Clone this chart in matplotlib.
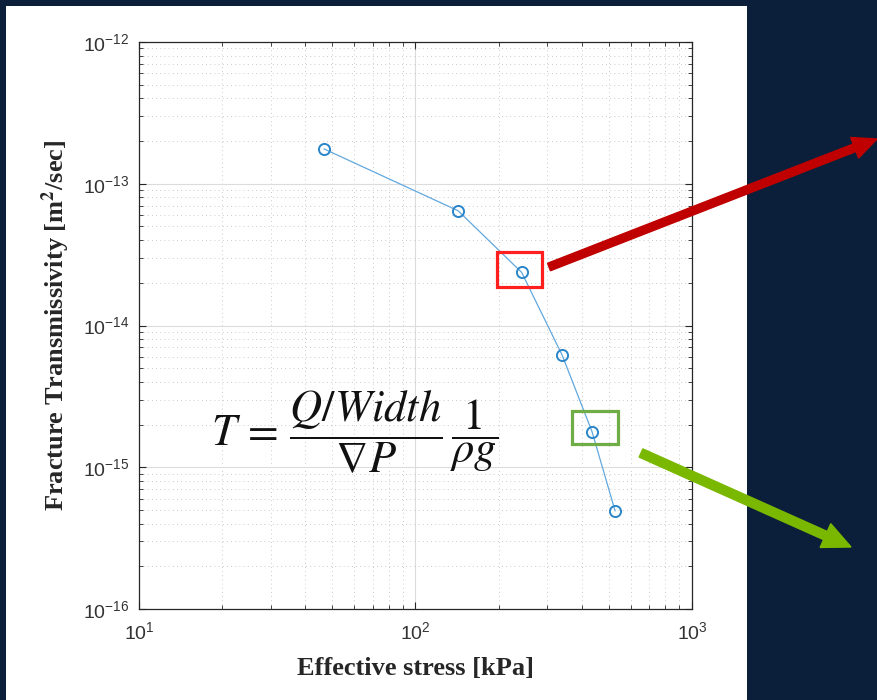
import matplotlib
matplotlib.use("Agg")
import matplotlib.pyplot as plt
from matplotlib.patches import Rectangle, FancyArrow
from matplotlib.transforms import IdentityTransform
from matplotlib.ticker import LogLocator, NullFormatter, FixedLocator

# values
stress = [46.7, 142.6, 242.0, 339.0, 435.0, 527.0]  # kPa
transmissivity = [1.76e-13, 6.45e-14, 2.37e-14, 6.19e-15, 1.78e-15, 4.93e-16]  # m^2/sec
x_ticks = [10, 100, 1000]
y_ticks = [1e-16, 1e-15, 1e-14, 1e-13, 1e-12]
x_label = "Effective stress [kPa]"
y_label = r"Fracture Transmissivity [m$^{\mathbf{2}}$/sec]"
equation = r"$T\,=\,\dfrac{Q/Width}{\nabla P}\,\dfrac{1}{\rho g}$"
highlighted = [2, 4]  # points marked with red / green boxes

navy = "#0b1f3a"
W, H = 877, 700

plt.rcParams["font.family"] = ["Liberation Sans", "DejaVu Sans"]

fig = plt.figure(figsize=(W / 100, H / 100), dpi=100, facecolor=navy)

# white slide panel behind the plot
fig.add_artist(Rectangle((6 / W, 0), 741 / W, 694 / H, transform=fig.transFigure,
                         facecolor="white", edgecolor="none", zorder=0))

ax = fig.add_axes([139 / W, 91 / H, 553 / W, 567 / H])
ax.set_facecolor("white")
ax.plot(stress, transmissivity, "-", color="#62a8de", lw=0.9, zorder=3)
ax.plot(stress, transmissivity, "o", ms=8, mfc="none", mec="#2a86c9", mew=1.4, zorder=4)

ax.set_xscale("log")
ax.set_yscale("log")
ax.set_xlim(10, 1000)
ax.set_ylim(1e-16, 1e-12)
ax.xaxis.set_major_locator(FixedLocator(x_ticks))
ax.yaxis.set_major_locator(FixedLocator(y_ticks))
ax.xaxis.set_minor_locator(LogLocator(base=10, subs=range(2, 10)))
ax.yaxis.set_minor_locator(LogLocator(base=10, subs=range(2, 10)))
ax.xaxis.set_minor_formatter(NullFormatter())
ax.yaxis.set_minor_formatter(NullFormatter())

ax.grid(which="major", color="#dcdcdc", lw=0.8, ls="-")
ax.grid(which="minor", color="#b8b8b8", lw=0.6, ls=(0, (1, 4)))
ax.set_axisbelow(True)

ax.tick_params(which="both", direction="in", top=True, right=True, colors="#262626",
               labelcolor="#333333")
ax.tick_params(which="major", length=5, width=0.8, labelsize=14)
ax.tick_params(which="minor", length=3, width=0.6)
ax.tick_params(axis="x", which="major", pad=9)
ax.tick_params(axis="y", which="major", pad=7)
for s in ax.spines.values():
    s.set_color("#262626")
    s.set_linewidth(0.9)

ax.set_xlabel(x_label, family="Liberation Serif", weight="bold", fontsize=19, color="#262626")
ax.set_ylabel(y_label, family="Liberation Serif", weight="bold", fontsize=19, color="#262626",
              math_fontfamily="stix")
ax.xaxis.set_label_coords(0.5, -0.085)
ax.yaxis.set_label_coords(-0.122, 0.5)

fig.text(211 / W, (H - 432) / H, equation, fontsize=32, math_fontfamily="stix",
         ha="left", va="center", color="#111111")

# boxes around the two highlighted points (pixel offsets from each point)
fig.canvas.draw()
box_specs = [(-24.7, -15, 44.7, 35, "#ff1f1f"), (-19.6, -12, 45.6, 33, "#70ad47")]
for idx, (dx, dy, bw, bh, col) in zip(highlighted, box_specs):
    px, py = ax.transData.transform((stress[idx], transmissivity[idx]))
    fig.add_artist(Rectangle((px + dx, py + dy), bw, bh, transform=IdentityTransform(),
                             fill=False, edgecolor=col, lw=2.3, zorder=6))

# arrows pointing out of the plot
fig.add_artist(FancyArrow(549, H - 267, 328, -(139 - 267), width=8, head_width=22,
                          head_length=24, length_includes_head=True, color="#c00000",
                          transform=IdentityTransform(), zorder=7))
fig.add_artist(FancyArrow(641, H - 453, 210, -(547 - 453), width=9, head_width=26,
                          head_length=28, length_includes_head=True, color="#7ab800",
                          transform=IdentityTransform(), zorder=7))

fig.savefig("out.png", dpi=100, facecolor=navy)
